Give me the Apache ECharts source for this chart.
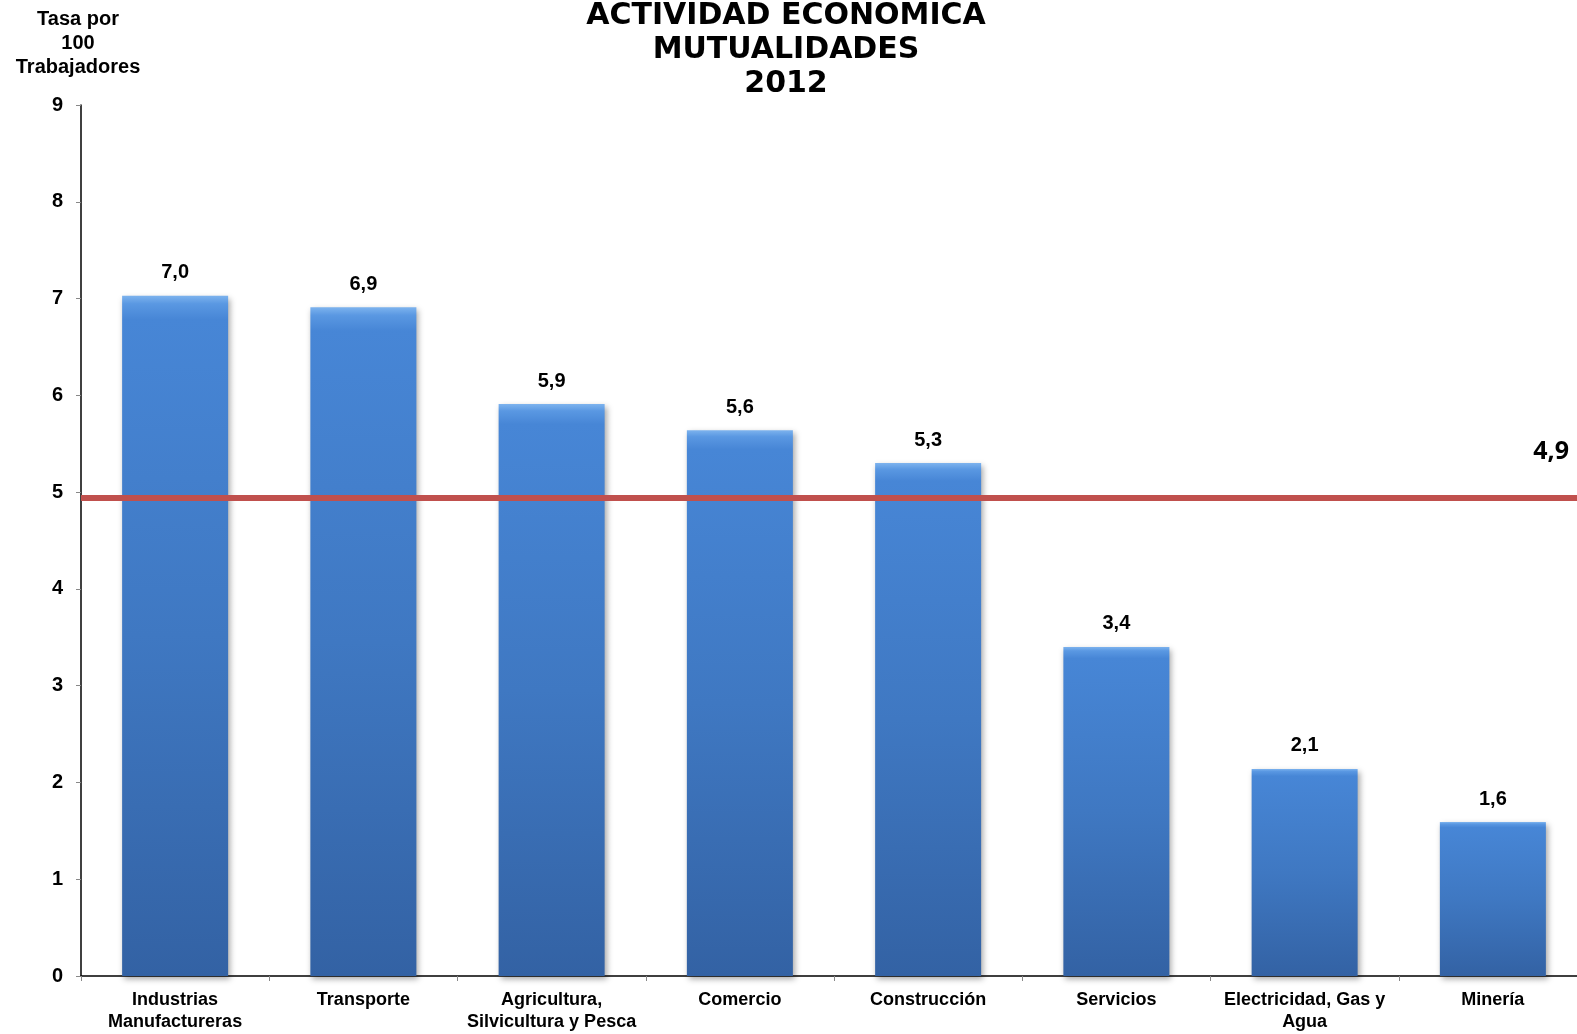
<!DOCTYPE html>
<html>
<head>
<meta charset="utf-8">
<script src="https://cdn.jsdelivr.net/npm/echarts@6/dist/echarts.min.js"></script>
<style>html,body{margin:0;padding:0;background:#fff;}#c{width:1577px;height:1034px;}</style>
</head>
<body>
<div id="c"></div>
<script>
const categories = ['Industrias\nManufactureras','Transporte','Agricultura,\nSilvicultura y Pesca','Comercio','Construcción','Servicios','Electricidad, Gas y\nAgua','Minería'];
const values = [7.03, 6.91, 5.91, 5.64, 5.30, 3.40, 2.14, 1.59];
const average = 4.94;
const yTicks = [0,1,2,3,4,5,6,7,8,9];
const titleLines = ['ACTIVIDAD ECONOMICA','MUTUALIDADES','2012'];
const yName = 'Tasa por\n100\nTrabajadores';

const fmt = v => v.toFixed(1).replace('.', ',');
const chart = echarts.init(document.getElementById('c'));
chart.setOption({
  animation: false,
  backgroundColor: '#fff',
  title: {
    text: titleLines.join('\n'),
    left: 781, textAlign: 'center', top: -6,
    textStyle: { fontFamily: 'DejaVu Sans', fontWeight: 'bold', fontSize: 30, lineHeight: 34, color: '#000' }
  },
  grid: { left: 81, top: 105, bottom: 58, width: 1506, outerBoundsMode: 'none', containLabel: false },
  xAxis: {
    type: 'category',
    data: categories,
    axisLine: { lineStyle: { color: '#000', width: 1.5 } },
    axisTick: { show: true, length: 5, lineStyle: { color: '#888' } },
    axisLabel: { interval: 0, margin: 13, fontFamily: 'Liberation Sans, Arial', fontWeight: 'bold', fontSize: 18, lineHeight: 22, color: '#000' }
  },
  yAxis: {
    type: 'value', min: 0, max: 9, interval: 1,
    name: yName, nameLocation: 'end', nameGap: 26,
    nameTextStyle: { fontFamily: 'Liberation Sans, Arial', fontWeight: 'bold', fontSize: 20, lineHeight: 24, color: '#000', align: 'center', padding: [0, 6, 0, 0] },
    axisLine: { show: true, lineStyle: { color: '#000', width: 1.5 } },
    axisTick: { show: true, length: 5, lineStyle: { color: '#888' } },
    splitLine: { show: false },
    axisLabel: { margin: 18, fontFamily: 'Liberation Sans, Arial', fontWeight: 'bold', fontSize: 20, color: '#000',
      formatter: v => yTicks.includes(v) ? String(v) : '' }
  },
  series: [{
    type: 'bar',
    data: values,
    barWidth: 106,
    itemStyle: {
      color: new echarts.graphic.LinearGradient(0, 0, 0, 1, [
        { offset: 0, color: '#7DB3EE' },
        { offset: 0.012, color: '#5A98E2' },
        { offset: 0.035, color: '#4786D6' },
        { offset: 0.5, color: '#3F78C2' },
        { offset: 1, color: '#3362A4' }
      ]),
      shadowColor: 'rgba(0,0,0,0.35)', shadowBlur: 6, shadowOffsetX: 2, shadowOffsetY: 3
    },
    label: {
      show: true, position: 'top', distance: 13,
      fontFamily: 'Liberation Sans, Arial', fontWeight: 'bold', fontSize: 20, color: '#000',
      formatter: p => fmt(p.value)
    },
    markLine: {
      silent: true, symbol: 'none',
      lineStyle: { color: '#C0504D', width: 6, type: 'solid' },
      label: { show: true, position: 'insideEndTop', distance: [0, 34], padding: [0, 18, 0, 0],
        fontFamily: 'Open Sans', fontWeight: 'bold', fontSize: 25, color: '#000',
        formatter: p => fmt(p.value) },
      data: [{ yAxis: average }]
    }
  }]
});
</script>
</body>
</html>
